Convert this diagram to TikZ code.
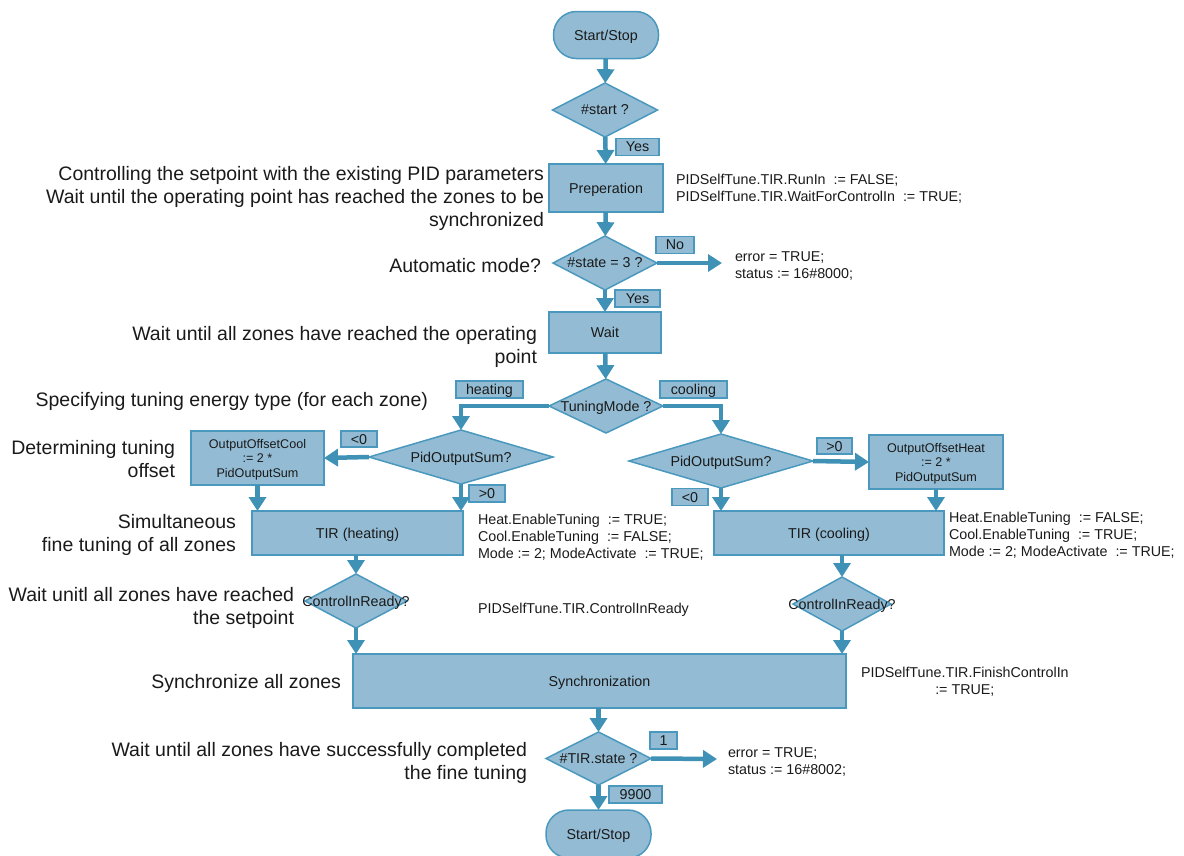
\documentclass[tikz,border=0pt]{standalone}
\usepackage{fontspec}
\setmainfont{Liberation Sans}
\usetikzlibrary{arrows.meta,shapes.geometric}
\definecolor{boxfill}{HTML}{93BCD4}
\definecolor{boxline}{HTML}{4A98BE}
\definecolor{flow}{HTML}{3F91B5}
\definecolor{ink}{HTML}{1A1A1A}

\begin{document}
\begin{tikzpicture}[x=1pt,y=-1pt,
  every node/.style={inner sep=0pt, outer sep=0pt, text depth=0pt, text=ink, font=\fontsize{14.3}{17}\selectfont},
  proc/.style={draw=boxline, fill=boxfill, line width=1.5pt, rectangle, align=center},
  offsetbox/.style={proc, font=\fontsize{12.6}{14.5}\selectfont},
  term/.style={proc, rounded corners=23pt},
  decision/.style={draw=boxline, fill=boxfill, line width=1.5pt, diamond},
  tag/.style={draw=boxline, fill=boxfill, line width=1.2pt, minimum height=17pt},
  note/.style={font=\fontsize{19.5}{23}\selectfont, align=right, anchor=east},
  code/.style={align=left, anchor=west},
  flowarrow/.style={draw=flow, line width=4.5pt, -{Triangle[width=17pt,length=14pt]}}
]
\useasboundingbox (0,0) rectangle (1184,855);

% ---------- main column ----------
\node[term, minimum width=105pt, minimum height=47pt] (start1) at (606,35) {Start/Stop};
\node[decision, minimum width=105pt, minimum height=54pt, label=center:{\#start ?}] (startq) at (605,110) {};
\node[tag, minimum width=43pt] (yes1) at (637.5,147) {Yes};
\node[proc, minimum width=114pt, minimum height=48pt] (prep) at (606,188) {Preperation};
\node[decision, minimum width=104pt, minimum height=54pt, label=center:{\#state = 3 ?}] (stateq) at (605,263) {};
\node[tag, minimum width=38pt] (no1) at (675,245) {No};
\coordinate (err1end) at (722,263);
\node[tag, minimum width=45pt] (yes2) at (637.5,298.5) {Yes};
\node[proc, minimum width=112pt, minimum height=41pt] (wait) at (605,332.5) {Wait};
\node[decision, minimum width=114pt, minimum height=54pt, label=center:{TuningMode ?}] (tmode) at (606,406) {};
\node[tag, minimum width=67pt] (heat) at (489.5,389.5) {heating};
\node[tag, minimum width=67pt] (cool) at (693.5,389.5) {cooling};

% ---------- heating branch ----------
\node[decision, minimum width=184pt, minimum height=54pt, label=center:{PidOutputSum?}] (pidL) at (461,457) {};
\node[tag, minimum width=36pt, minimum height=16pt] (ltL) at (359,439) {<0};
\node[offsetbox, minimum width=133pt, minimum height=54pt] (offCool) at (257.5,458) {OutputOffsetCool\\:= 2 *\\PidOutputSum};
\node[tag, minimum width=36pt] (gtL) at (487,493.5) {>0};
\node[proc, minimum width=211pt, minimum height=44pt] (tirH) at (357.5,533) {TIR (heating)};
\node[decision, minimum width=102pt, minimum height=54pt, label=center:{ControlInReady?}] (cirL) at (356,601) {};

% ---------- cooling branch ----------
\node[decision, minimum width=184pt, minimum height=54pt, label=center:{PidOutputSum?}] (pidR) at (721,461) {};
\node[tag, minimum width=35pt, minimum height=16pt] (gtR) at (834.5,446) {>0};
\node[offsetbox, minimum width=134pt, minimum height=54pt] (offHeat) at (936,462) {OutputOffsetHeat\\:= 2 *\\PidOutputSum};
\node[tag, minimum width=36pt] (ltR) at (690,497) {<0};
\node[proc, minimum width=230pt, minimum height=44pt] (tirC) at (829,533) {TIR (cooling)};
\node[decision, minimum width=98pt, minimum height=54pt, label=center:{ControlInReady?}] (cirR) at (842,604) {};

% ---------- end of sequence ----------
\node[proc, minimum width=493pt, minimum height=54pt] (sync) at (599.5,681) {Synchronization};
\node[decision, minimum width=105pt, minimum height=53pt, label=center:{\#TIR.state ?}] (tirq) at (598.5,758.5) {};
\node[tag, minimum width=27pt] (one) at (663.5,740.5) {1};
\coordinate (err2end) at (717,759);
\node[tag, minimum width=53pt] (n9900) at (635.5,794.5) {9900};
\node[term, minimum width=105pt, minimum height=48pt] (start2) at (598.5,834) {Start/Stop};

% ---------- connectors ----------
\draw[flowarrow] (start1) -- (startq);
\draw[flowarrow] (startq) -- (prep);
\draw[flowarrow] (prep) -- (stateq);
\draw[flowarrow] (stateq.east) -- (err1end);
\draw[flowarrow] (stateq) -- (wait);
\draw[flowarrow] (wait) -- (tmode);
\draw[flowarrow] (tmode.west) -| (pidL.north);
\draw[flowarrow] (tmode.east) -| (pidR.north);
\draw[flowarrow] (pidL.west) -- (offCool.east);
\draw[flowarrow] (pidL.south) -- (pidL.south |- tirH.north);
\draw[flowarrow] (offCool.south) -- (offCool.south |- tirH.north);
\draw[flowarrow] (pidR.east) -- (offHeat.west);
\draw[flowarrow] (pidR.south) -- (pidR.south |- tirC.north);
\draw[flowarrow] (offHeat.south) -- (offHeat.south |- tirC.north);
\draw[flowarrow] (cirL.north |- tirH.south) -- (cirL.north);
\draw[flowarrow] (cirR.north |- tirC.south) -- (cirR.north);
\draw[flowarrow] (cirL.south) -- (cirL.south |- sync.north);
\draw[flowarrow] (cirR.south) -- (cirR.south |- sync.north);
\draw[flowarrow] (sync.south -| tirq.north) -- (tirq.north);
\draw[flowarrow] (tirq.east) -- (err2end);
\draw[flowarrow] (tirq) -- (start2);

% ---------- code beside the steps ----------
\node[code] (prepcode) at (676,188) {PIDSelfTune.TIR.RunIn\ \ := FALSE;\\PIDSelfTune.TIR.WaitForControlIn\ \ := TRUE;};
\node[code] (err1) at (735,265.5) {error = TRUE;\\status := 16\#8000;};
\node[code] (heatcode) at (478,536) {Heat.EnableTuning\ \ := TRUE;\\Cool.EnableTuning\ \ := FALSE;\\Mode := 2; ModeActivate\ \ := TRUE;};
\node[code] (coolcode) at (949,534.5) {Heat.EnableTuning\ \ := FALSE;\\Cool.EnableTuning\ \ := TRUE;\\Mode := 2; ModeActivate\ \ := TRUE;};
\node[code] (readycode) at (478,608) {PIDSelfTune.TIR.ControlInReady};
\node[anchor=west, align=center] (synccode) at (861,680.5) {PIDSelfTune.TIR.FinishControlIn\\:= TRUE;};
\node[code] (err2) at (728,761.5) {error = TRUE;\\status := 16\#8002;};

% ---------- descriptions on the left ----------
\node[note] (ctrlnote) at (544,196) {Controlling the setpoint with the existing PID parameters\\Wait until the operating point has reached the zones to be\\synchronized};
\node[note] (autonote) at (541,265) {Automatic mode?};
\node[note] (waitnote) at (537,345) {Wait until all zones have reached the operating\\point};
\node[note] (specnote) at (428,399) {Specifying tuning energy type (for each zone)};
\node[note] (detnote) at (175,458.5) {Determining tuning\\offset};
\node[note] (simnote) at (236,532.5) {Simultaneous\\fine tuning of all zones};
\node[note] (spnote) at (294,605.5) {Wait unitl all zones have reached\\the setpoint};
\node[note] (syncnote) at (341,681) {Synchronize all zones};
\node[note] (finnote) at (527,760.5) {Wait until all zones have successfully completed\\the fine tuning};
\end{tikzpicture}
\end{document}
